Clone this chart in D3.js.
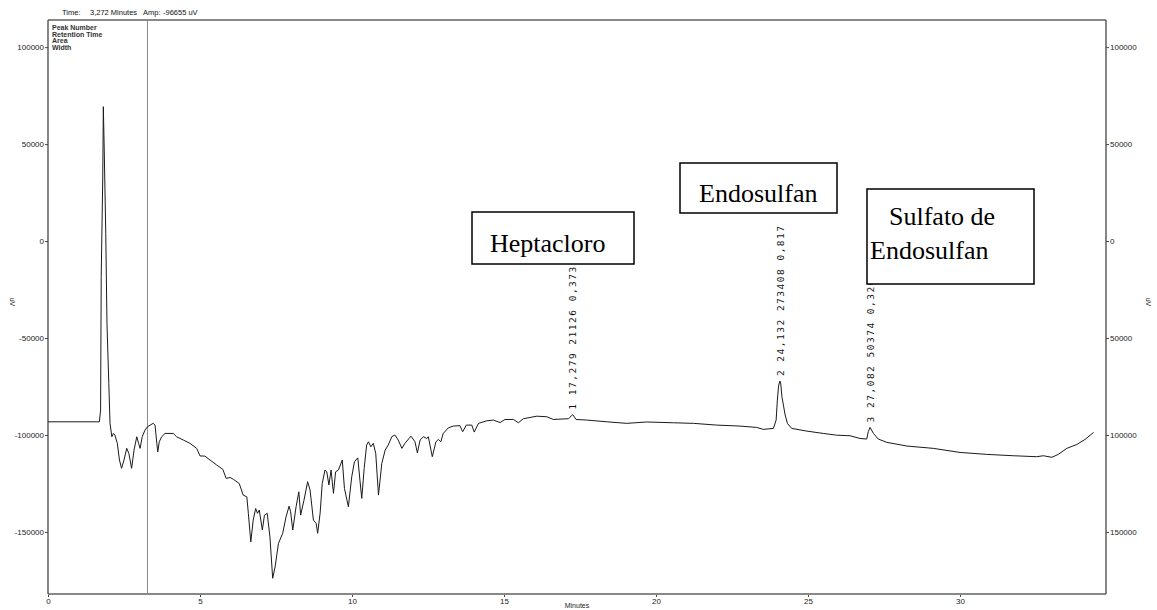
<!DOCTYPE html>
<html>
<head>
<meta charset="utf-8">
<script src="https://cdn.jsdelivr.net/npm/d3@7"></script>
<style>
  body { margin: 0; background: #fff; }
  svg { display: block; }
  .tick text { font-family: "Liberation Sans", Arial, sans-serif; font-size: 8px; fill: #222; }
  .tick line { stroke: #444; }
</style>
</head>
<body>
<svg id="chrom" width="1157" height="610"></svg>
<script>
const times = [0, 1.69, 1.73, 1.75, 1.80, 1.82, 1.85, 1.90, 1.94, 2.00, 2.04, 2.10, 2.15, 2.20, 2.28, 2.35, 2.42, 2.50, 2.59, 2.66,
  2.75, 2.83, 2.92, 2.98, 3.03, 3.10, 3.19, 3.27, 3.36, 3.46, 3.52, 3.58, 3.61, 3.66, 3.74, 3.85, 4.12, 4.23, 4.45, 4.67,
  4.89, 5.00, 5.16, 5.33, 5.55, 5.75, 5.86, 5.99, 6.10, 6.29, 6.42, 6.54, 6.59, 6.67, 6.75, 6.83, 6.89, 6.95, 7.05, 7.12,
  7.21, 7.30, 7.39, 7.47, 7.58, 7.72, 7.83, 7.93, 7.98, 8.05, 8.16, 8.25, 8.31, 8.42, 8.54, 8.62, 8.73, 8.82, 8.87, 8.95,
  9.02, 9.11, 9.17, 9.24, 9.31, 9.39, 9.46, 9.55, 9.68, 9.75, 9.88, 9.99, 10.08, 10.19, 10.26, 10.32, 10.40, 10.48, 10.54, 10.62,
  10.70, 10.78, 10.87, 10.98, 11.09, 11.19, 11.31, 11.41, 11.52, 11.64, 11.74, 11.94, 12.07, 12.15, 12.24, 12.35, 12.46, 12.51, 12.64, 12.76,
  12.84, 12.92, 13.00, 13.17, 13.33, 13.55, 13.64, 13.76, 13.94, 14.02, 14.16, 14.43, 14.65, 14.87, 15.03, 15.31, 15.47, 15.64, 16.08, 16.41,
  16.62, 17.12, 17.26, 17.37, 17.72, 18.38, 19.04, 19.69, 20.57, 21.23, 22.00, 22.76, 23.31, 23.53, 23.86, 23.95, 23.99, 24.03, 24.07, 24.10,
  24.14, 24.19, 24.24, 24.32, 24.46, 24.96, 25.50, 25.94, 26.38, 26.71, 26.93, 26.98, 27.04, 27.15, 27.31, 27.59, 28.25, 29.12, 30.00, 30.88,
  31.75, 32.52, 32.74, 33.02, 33.23, 33.51, 33.84, 34.11, 34.39];
const signal = [-93200, -93200, -87150, -18400, 31500, 69300, 46900, 4000, -42400, -73400, -94000, -100900, -99200, -100000, -104300, -112900, -117200, -112900, -106900, -109500,
  -117200, -107800, -100900, -104300, -106900, -100900, -97500, -95800, -94900, -94000, -94900, -104300, -108700, -103500, -100900, -99200, -99200, -100900, -102600, -104300,
  -106900, -110800, -110900, -112900, -115500, -117700, -122400, -121900, -122900, -125000, -131000, -131900, -140400, -155100, -143900, -137900, -140400, -138700, -149000, -141300,
  -140400, -152500, -173900, -168000, -155900, -150700, -142200, -136700, -139600, -149000, -137000, -129300, -141300, -133600, -124100, -128400, -143900, -145600, -150700, -140400,
  -125000, -118100, -119000, -125800, -118100, -130100, -119000, -118100, -112900, -127500, -137000, -121600, -113800, -111800, -123300, -132700, -117200, -105200, -103500, -106100,
  -104300, -109500, -131000, -114600, -107800, -105200, -100900, -100000, -102600, -106900, -104300, -100600, -103500, -109200, -102600, -100900, -101800, -100900, -111200, -103500,
  -102300, -103500, -99200, -96300, -95400, -95200, -98300, -94900, -94900, -98500, -94000, -92700, -92300, -93600, -92000, -92000, -93700, -91600, -90300, -90600,
  -92000, -91600, -89500, -92000, -92300, -93200, -94000, -93300, -93700, -94000, -94900, -95400, -96100, -97100, -96600, -92300, -82000, -74800, -72200, -73200,
  -80300, -84600, -89200, -94000, -96600, -98000, -99200, -100100, -100400, -101800, -102100, -98300, -96100, -99200, -102100, -103800, -105700, -106900, -109000, -110000,
  -110700, -111200, -110700, -111500, -110000, -106900, -104900, -102300, -98700];

// picos integrados
const peakNumbers = [1, 2, 3];
const peakTimes = [17.279, 24.132, 27.082];
const peakTimeLabels = ["17,279", "24,132", "27,082"];
const peakAreas = [21126, 273408, 50374];
const peakWidths = ["0,373", "0,817", "0,320"];
const peakApex = [-89500, -72200, -96100];

const xTicks = [0, 5, 10, 15, 20, 25, 30];
const yTicks = [100000, 50000, 0, -50000, -100000, -150000];
const cursorTime = 3.272;
const headerLines = ["Peak Number", "Retention Time", "Area", "Width"];

// nombres de compuestos (cajas de anotación)
const compounds = [
  { lines: ["Heptacloro"], box: [472, 212, 162, 52], tx: [490], ty: [252] },
  { lines: ["Endosulfan"], box: [680, 163, 157, 50], tx: [699], ty: [202] },
  { lines: ["Sulfato de", "Endosulfan"], box: [867, 189, 167, 95], tx: [889, 870], ty: [225, 259] }
];

const svg = d3.select("#chrom");
const margin = { top: 20, right: 51, bottom: 16, left: 48 };
const width = +svg.attr("width") - margin.left - margin.right;
const height = +svg.attr("height") - margin.top - margin.bottom;
const g = svg.append("g").attr("transform", `translate(${margin.left},${margin.top})`);

const x = d3.scaleLinear().domain([0, 34.8]).range([0, width]);
const y = d3.scaleLinear().domain([-182000, 114000]).range([height, 0]);

// ejes
const xAxis = g.append("g")
  .attr("transform", `translate(0,${height})`)
  .call(d3.axisBottom(x).tickValues(xTicks).tickSize(3).tickPadding(1).tickFormat(d => String(d)));
const yAxisL = g.append("g")
  .call(d3.axisLeft(y).tickValues(yTicks).tickSize(3).tickPadding(1).tickFormat(d => String(d)));
const yAxisR = g.append("g")
  .attr("transform", `translate(${width},0)`)
  .call(d3.axisRight(y).tickValues(yTicks).tickSize(3).tickPadding(1).tickFormat(d => String(Math.abs(d))));
[xAxis, yAxisL, yAxisR].forEach(a => a.select(".domain").remove());

// marco
g.append("line").attr("x1", 0).attr("x2", width).attr("y1", 0).attr("y2", 0)
  .attr("stroke", "#888").attr("stroke-width", 2);
g.append("line").attr("x1", 0).attr("x2", width).attr("y1", height).attr("y2", height)
  .attr("stroke", "#888").attr("stroke-width", 2);
g.append("line").attr("x1", 0).attr("x2", 0).attr("y1", 0).attr("y2", height)
  .attr("stroke", "#444").attr("stroke-width", 1.3);
g.append("line").attr("x1", width).attr("x2", width).attr("y1", 0).attr("y2", height)
  .attr("stroke", "#444").attr("stroke-width", 1.3);

// cursor
g.append("line")
  .attr("x1", x(cursorTime)).attr("x2", x(cursorTime))
  .attr("y1", 0).attr("y2", height)
  .attr("stroke", "#888").attr("stroke-width", 1);

// títulos de ejes
svg.append("text")
  .attr("x", (margin.left + margin.left + width) / 2).attr("y", 608)
  .attr("text-anchor", "middle")
  .style("font-family", "Liberation Sans, Arial, sans-serif").style("font-size", "7px").attr("fill", "#222")
  .text("Minutes");
[10, 1146].forEach(px => {
  svg.append("text")
    .attr("transform", `translate(${px},302) rotate(90)`)
    .attr("text-anchor", "middle")
    .style("font-family", "Liberation Sans, Arial, sans-serif").style("font-size", "7px").attr("fill", "#222")
    .text("uV");
});

// cabecera
const header = svg.append("text")
  .attr("y", 15)
  .style("font-family", "Liberation Sans, Arial, sans-serif").style("font-size", "7.5px").attr("fill", "#111");
header.append("tspan").attr("x", 62).text("Time:");
header.append("tspan").attr("x", 90).text("3,272 Minutes");
header.append("tspan").attr("x", 143).text("Amp:");
header.append("tspan").attr("x", 163).text("-96655 uV");

svg.append("g").selectAll("text")
  .data(headerLines)
  .enter()
  .append("text")
  .attr("x", 52)
  .attr("y", (d, i) => 30 + i * 6.6)
  .style("font-family", "Liberation Sans, Arial, sans-serif").style("font-size", "7px")
  .style("font-weight", "bold").attr("fill", "#333")
  .text(d => d);

// cromatograma
const points = times.map((t, i) => [t, signal[i]]);
g.append("path")
  .datum(points)
  .attr("fill", "none")
  .attr("stroke", "#1a1a1a")
  .attr("stroke-width", 1)
  .attr("stroke-linejoin", "round")
  .attr("d", d3.line().x(d => x(d[0])).y(d => y(d[1])));

// etiquetas de picos
g.selectAll(".peak-label")
  .data(peakNumbers)
  .enter()
  .append("text")
  .attr("class", "peak-label")
  .attr("transform", (d, i) => `translate(${x(peakTimes[i])},${y(peakApex[i]) - 5}) rotate(-90)`)
  .attr("dominant-baseline", "middle")
  .style("font-family", "DejaVu Sans Mono, monospace").style("font-size", "9.5px")
  .style("letter-spacing", "1.5px").attr("fill", "#111")
  .text((d, i) => `${d} ${peakTimeLabels[i]} ${peakAreas[i]} ${peakWidths[i]}`);

// cajas de compuestos
compounds.forEach(c => {
  svg.append("rect")
    .attr("x", c.box[0]).attr("y", c.box[1]).attr("width", c.box[2]).attr("height", c.box[3])
    .attr("fill", "#fff").attr("stroke", "#000").attr("stroke-width", 1.5);
  c.lines.forEach((line, i) => {
    svg.append("text")
      .attr("x", c.tx[i]).attr("y", c.ty[i])
      .style("font-family", "Liberation Serif, Times New Roman, serif").style("font-size", "26px")
      .attr("fill", "#000")
      .text(line);
  });
});
</script>
</body>
</html>
